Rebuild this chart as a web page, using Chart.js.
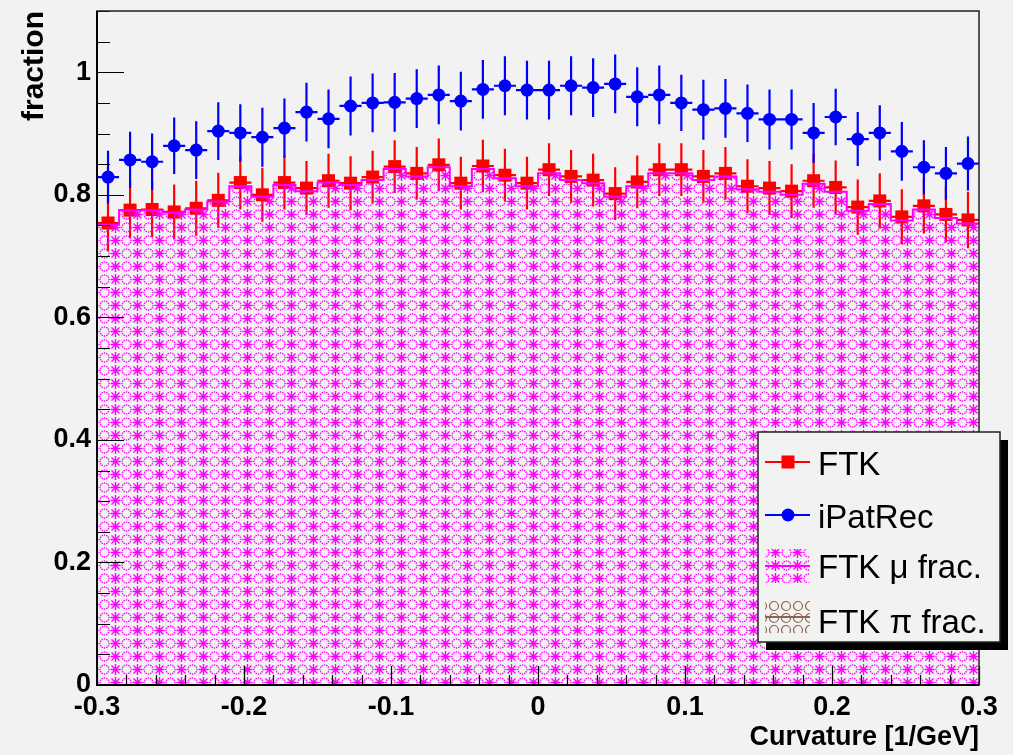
<!DOCTYPE html>
<html>
<head>
<meta charset="utf-8">
<title>FTK fraction vs curvature</title>
<script src="https://cdn.jsdelivr.net/npm/chart.js@4.4.1/dist/chart.umd.min.js"></script>
<style>
  html, body { margin: 0; padding: 0; background: #f2f2f2; }
  #wrap { width: 1013px; height: 755px; }
</style>
</head>
<body>
<div id="wrap"><canvas id="fracChart" width="1013" height="755"></canvas></div>
<script>
// bin centres in curvature, 40 bins of 0.015 between -0.3 and 0.3
const binCenters = [
  -0.2925, -0.2775, -0.2625, -0.2475, -0.2325, -0.2175, -0.2025, -0.1875, -0.1725, -0.1575,
  -0.1425, -0.1275, -0.1125, -0.0975, -0.0825, -0.0675, -0.0525, -0.0375, -0.0225, -0.0075,
   0.0075,  0.0225,  0.0375,  0.0525,  0.0675,  0.0825,  0.0975,  0.1125,  0.1275,  0.1425,
   0.1575,  0.1725,  0.1875,  0.2025,  0.2175,  0.2325,  0.2475,  0.2625,  0.2775,  0.2925
];
const binHalfWidth = 0.0075;

const ftkFrac = [
  0.754, 0.775, 0.776, 0.772, 0.778, 0.791, 0.820, 0.800, 0.820, 0.811,
  0.823, 0.819, 0.829, 0.846, 0.835, 0.849, 0.819, 0.847, 0.832, 0.819,
  0.841, 0.830, 0.824, 0.802, 0.821, 0.841, 0.841, 0.830, 0.835, 0.814,
  0.811, 0.806, 0.823, 0.812, 0.780, 0.790, 0.764, 0.782, 0.768, 0.759
];
const ftkErr = [
  0.046, 0.045, 0.045, 0.045, 0.045, 0.045, 0.044, 0.044, 0.044, 0.044,
  0.044, 0.044, 0.043, 0.043, 0.043, 0.043, 0.043, 0.043, 0.043, 0.043,
  0.043, 0.043, 0.043, 0.043, 0.043, 0.043, 0.043, 0.043, 0.043, 0.044,
  0.044, 0.044, 0.044, 0.044, 0.045, 0.045, 0.045, 0.045, 0.046, 0.046
];

const ipatFrac = [
  0.829, 0.857, 0.854, 0.880, 0.873, 0.904, 0.901, 0.894, 0.909, 0.935,
  0.924, 0.945, 0.950, 0.951, 0.957, 0.963, 0.953, 0.972, 0.978, 0.971,
  0.971, 0.978, 0.975, 0.981, 0.960, 0.963, 0.950, 0.939, 0.941, 0.933,
  0.923, 0.923, 0.901, 0.927, 0.891, 0.901, 0.871, 0.845, 0.835, 0.851
];
const ipatErr = [
  0.043, 0.046, 0.046, 0.046, 0.047, 0.047, 0.047, 0.048, 0.048, 0.048,
  0.048, 0.048, 0.048, 0.048, 0.048, 0.048, 0.048, 0.048, 0.048, 0.048,
  0.048, 0.048, 0.048, 0.048, 0.048, 0.048, 0.046, 0.049, 0.048, 0.047,
  0.049, 0.049, 0.049, 0.046, 0.044, 0.045, 0.048, 0.044, 0.043, 0.044
];

// muon / pion fractions of FTK tracks
const muFrac = [
  0.751, 0.775, 0.775, 0.771, 0.776, 0.789, 0.814, 0.797, 0.816, 0.806,
  0.820, 0.816, 0.824, 0.842, 0.830, 0.845, 0.814, 0.842, 0.827, 0.814,
  0.835, 0.824, 0.819, 0.797, 0.814, 0.835, 0.835, 0.824, 0.830, 0.809,
  0.805, 0.800, 0.818, 0.805, 0.774, 0.785, 0.758, 0.776, 0.762, 0.753
];
const piFrac = [
  0, 0, 0, 0, 0, 0, 0, 0, 0, 0,
  0, 0, 0, 0, 0, 0, 0, 0, 0, 0,
  0, 0, 0, 0, 0, 0, 0, 0, 0, 0,
  0, 0, 0, 0, 0, 0, 0, 0, 0, 0
];

const xTicks = [-0.3, -0.2, -0.1, 0, 0.1, 0.2, 0.3];
const yTicks = [0, 0.2, 0.4, 0.6, 0.8, 1];

const legendLabels = ['FTK', 'iPatRec', 'FTK \u03bc frac.', 'FTK \u03c0 frac.'];

const FONT = '"Liberation Sans", Arial, Helvetica, sans-serif';
const MAGENTA = '#ff00ff';
const BROWN = '#8c6450';

// ROOT-like hatch fills
function muPattern() {
  const c = document.createElement('canvas');
  c.width = 22; c.height = 13;
  const g = c.getContext('2d');
  g.strokeStyle = MAGENTA;
  g.fillStyle = MAGENTA;
  g.lineWidth = 1.4;
  const ax = 5.5, ay = 6.5;
  g.beginPath();
  g.moveTo(ax, 1); g.lineTo(ax, 12);
  g.moveTo(ax - 4, ay - 4); g.lineTo(ax + 4, ay + 4);
  g.moveTo(ax - 4, ay + 4); g.lineTo(ax + 4, ay - 4);
  g.moveTo(ax - 5, ay); g.lineTo(ax + 5, ay);
  g.stroke();
  for (let k = 0; k < 12; k++) {
    const a = k * Math.PI / 6;
    g.fillRect(16.5 + 4.5 * Math.cos(a) - 0.7, 6.5 + 4.5 * Math.sin(a) - 0.7, 1.4, 1.4);
  }
  return g.createPattern(c, 'repeat');
}

function piPattern() {
  const c = document.createElement('canvas');
  c.width = 12; c.height = 12;
  const g = c.getContext('2d');
  g.strokeStyle = BROWN;
  g.lineWidth = 1.2;
  g.beginPath();
  g.arc(6, 6, 4.5, 0, Math.PI * 2);
  g.stroke();
  return g.createPattern(c, 'repeat');
}

const muFill = muPattern();
const piFill = piPattern();

// histogram outline: one point per lower bin edge plus the upper edge of the last bin
function stepPoints(vals) {
  const pts = binCenters.map((c, i) => ({ x: c - binHalfWidth, y: vals[i] }));
  const last = binCenters.length - 1;
  pts.push({ x: binCenters[last] + binHalfWidth, y: vals[last] });
  return pts;
}

const errorBars = {
  id: 'errorBars',
  beforeDatasetDraw(chart, args) {
    const ds = chart.data.datasets[args.index];
    if (!ds.errors) return;
    const { ctx, scales: { x, y } } = chart;
    ctx.save();
    ctx.strokeStyle = ds.backgroundColor;
    ctx.lineWidth = 2.2;
    ctx.beginPath();
    ds.data.forEach((p, i) => {
      const px = x.getPixelForValue(p.x);
      const py = y.getPixelForValue(p.y);
      ctx.moveTo(px, y.getPixelForValue(p.y + ds.errors[i]));
      ctx.lineTo(px, y.getPixelForValue(p.y - ds.errors[i]));
      ctx.moveTo(x.getPixelForValue(p.x - binHalfWidth), py);
      ctx.lineTo(x.getPixelForValue(p.x + binHalfWidth), py);
    });
    ctx.stroke();
    ctx.restore();
  }
};

const frame = {
  id: 'frame',
  afterDatasetsDraw(chart) {
    const { ctx, chartArea: a, scales: { x, y } } = chart;
    ctx.save();
    ctx.strokeStyle = '#000';
    ctx.lineWidth = 1.2;
    ctx.beginPath();
    for (let k = 0; k <= 22; k++) {
      const py = Math.round(y.getPixelForValue(k * 0.05)) + 0.5;
      const len = k % 4 === 0 ? 27 : 13;
      ctx.moveTo(a.left, py);
      ctx.lineTo(a.left + len, py);
    }
    for (let k = 0; k <= 30; k++) {
      const px = Math.round(x.getPixelForValue(-0.3 + k * 0.02)) + 0.5;
      const len = k % 5 === 0 ? 19 : 10;
      ctx.moveTo(px, a.bottom);
      ctx.lineTo(px, a.bottom - len);
    }
    ctx.stroke();
    ctx.lineWidth = 1.5;
    ctx.strokeStyle = '#222';
    ctx.strokeRect(a.left, a.top, a.right - a.left, a.bottom - a.top);
    ctx.lineWidth = 2;
    ctx.strokeStyle = '#000';
    ctx.beginPath();
    ctx.moveTo(a.left, a.top);
    ctx.lineTo(a.left, a.bottom);
    ctx.lineTo(a.right, a.bottom);
    ctx.stroke();
    ctx.restore();
  }
};

const legendBox = {
  id: 'legendBox',
  afterDraw(chart) {
    const ctx = chart.ctx;
    const L = 758, T = 432, W = 242, H = 210;
    ctx.save();
    ctx.fillStyle = '#000';
    ctx.fillRect(L + 8, T + 8, W, H);
    ctx.fillStyle = '#f2f2f2';
    ctx.fillRect(L, T, W, H);
    ctx.strokeStyle = '#222';
    ctx.lineWidth = 1.5;
    ctx.strokeRect(L, T, W, H);

    const sx0 = 765, sx1 = 810, smid = 788;
    // FTK
    ctx.strokeStyle = '#ff0000';
    ctx.lineWidth = 2;
    ctx.beginPath(); ctx.moveTo(sx0, 462); ctx.lineTo(sx1, 462); ctx.stroke();
    ctx.fillStyle = '#ff0000';
    ctx.fillRect(smid - 6.5, 462 - 6.5, 13, 13);
    // iPatRec
    ctx.strokeStyle = '#0000ff';
    ctx.beginPath(); ctx.moveTo(sx0, 515); ctx.lineTo(sx1, 515); ctx.stroke();
    ctx.fillStyle = '#0000ff';
    ctx.beginPath(); ctx.arc(smid, 515, 6.5, 0, Math.PI * 2); ctx.fill();
    // mu fraction
    ctx.fillStyle = muFill;
    ctx.fillRect(sx0, 549, sx1 - sx0, 34);
    ctx.strokeStyle = MAGENTA;
    ctx.beginPath(); ctx.moveTo(sx0, 566); ctx.lineTo(sx1, 566); ctx.stroke();
    // pi fraction
    ctx.fillStyle = piFill;
    ctx.fillRect(sx0, 599, sx1 - sx0, 34);
    ctx.strokeStyle = BROWN;
    ctx.beginPath(); ctx.moveTo(sx0, 617); ctx.lineTo(sx1, 617); ctx.stroke();

    ctx.fillStyle = '#000';
    ctx.font = '33px ' + FONT;
    ctx.textBaseline = 'alphabetic';
    ctx.textAlign = 'left';
    const baselines = [475, 528, 578, 633];
    legendLabels.forEach((t, i) => ctx.fillText(t, 818, baselines[i]));
    ctx.restore();
  }
};

const bg = {
  id: 'bg',
  beforeDraw(chart) {
    const ctx = chart.ctx;
    ctx.save();
    ctx.fillStyle = '#f2f2f2';
    ctx.fillRect(0, 0, chart.width, chart.height);
    ctx.restore();
  }
};

new Chart(document.getElementById('fracChart'), {
  type: 'scatter',
  data: {
    datasets: [
      {
        label: 'FTK \u03c0 frac.',
        type: 'line',
        data: stepPoints(piFrac),
        stepped: 'before',
        showLine: true,
        fill: 'origin',
        backgroundColor: piFill,
        borderColor: BROWN,
        borderWidth: 0,
        pointRadius: 0,
        order: 0
      },
      {
        label: 'FTK \u03bc frac.',
        type: 'line',
        data: stepPoints(muFrac),
        stepped: 'before',
        showLine: true,
        fill: 'origin',
        backgroundColor: muFill,
        borderColor: MAGENTA,
        borderWidth: 2,
        pointRadius: 0,
        order: 1
      },
      {
        label: 'iPatRec',
        data: binCenters.map((c, i) => ({ x: c, y: ipatFrac[i] })),
        errors: ipatErr,
        pointStyle: 'circle',
        pointRadius: 6.5,
        backgroundColor: '#0000ff',
        borderWidth: 0,
        order: 2
      },
      {
        label: 'FTK',
        data: binCenters.map((c, i) => ({ x: c, y: ftkFrac[i] })),
        errors: ftkErr,
        pointStyle: 'rect',
        pointRadius: 9.2,
        backgroundColor: '#ff0000',
        borderWidth: 0,
        order: 3
      }
    ]
  },
  options: {
    responsive: false,
    animation: false,
    devicePixelRatio: 1,
    layout: { padding: { top: 11, right: 34, left: 0, bottom: 0 } },
    plugins: {
      legend: { display: false },
      tooltip: { enabled: false }
    },
    events: [],
    scales: {
      x: {
        type: 'linear',
        min: -0.3,
        max: 0.3,
        grid: { display: false, drawTicks: false },
        border: { display: false },
        afterBuildTicks: s => { s.ticks = xTicks.map(v => ({ value: v })); },
        afterFit: s => { s.height = 70; s.paddingLeft = 0; s.paddingRight = 0; },
        ticks: {
          padding: 6,
          color: '#000',
          maxRotation: 0,
          autoSkip: false,
          font: { family: FONT, size: 27, weight: 'bold' },
          callback: v => String(+v.toFixed(1))
        },
        title: {
          display: true,
          text: 'Curvature [1/GeV]',
          align: 'end',
          color: '#000',
          font: { family: FONT, size: 27, weight: 'bold' },
          padding: { top: 0, bottom: 1 }
        }
      },
      y: {
        min: 0,
        max: 1.1,
        grid: { display: false, drawTicks: false },
        border: { display: false },
        afterBuildTicks: s => { s.ticks = yTicks.map(v => ({ value: v })); },
        afterFit: s => { s.width = 97; s.paddingTop = 0; s.paddingBottom = 0; },
        ticks: {
          padding: 6,
          color: '#000',
          font: { family: FONT, size: 27, weight: 'bold' },
          callback: v => String(+v.toFixed(1))
        },
        title: {
          display: true,
          text: 'fraction',
          align: 'end',
          color: '#000',
          font: { family: FONT, size: 30, weight: 'bold' },
          padding: { top: 17, bottom: 0 }
        }
      }
    }
  },
  plugins: [bg, errorBars, frame, legendBox]
});
</script>
</body>
</html>
